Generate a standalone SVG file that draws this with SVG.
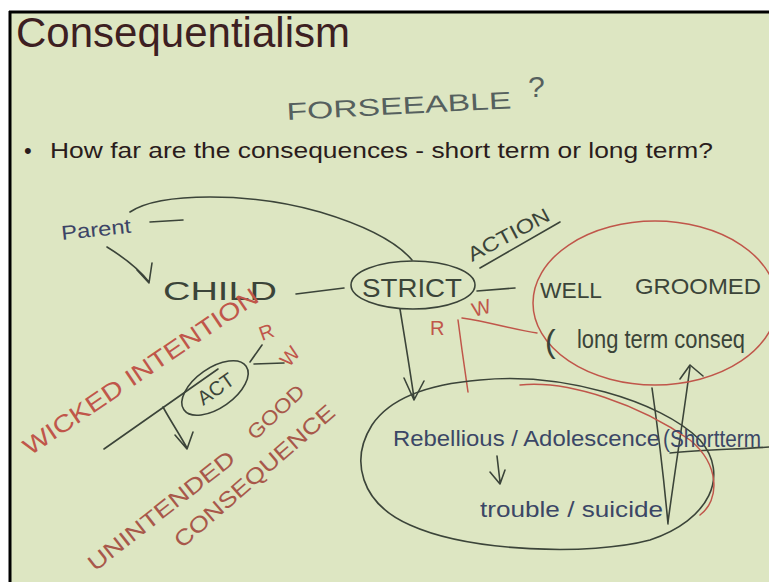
<svg xmlns="http://www.w3.org/2000/svg" width="769" height="582" viewBox="0 0 769 582">
<style>
.ink{fill:none;stroke:#3b4439;stroke-width:1.6;stroke-linecap:round;stroke-linejoin:round}
.red{fill:none;stroke:#c0564a;stroke-width:1.5;stroke-linecap:round;stroke-linejoin:round}
.hw{font-family:"Liberation Sans",Arial,sans-serif;fill:#3b4439}
.hr{font-family:"Liberation Sans",Arial,sans-serif;fill:#c0564a}
.hm{font-family:"Liberation Sans",Arial,sans-serif;fill:#a8584a}
</style>
<rect x="0" y="0" width="769" height="582" fill="#ffffff"/>
<rect x="10" y="13" width="759" height="569" fill="#dde6c2"/>
<line x1="9" y1="12" x2="769" y2="12" stroke="#000" stroke-width="3"/>
<line x1="10" y1="11" x2="10" y2="582" stroke="#000" stroke-width="3"/>

<g id="title">
<text x="16" y="47" font-family="Liberation Sans,Arial,sans-serif" font-size="42" fill="#3d1f22" textLength="334" lengthAdjust="spacingAndGlyphs">Consequentialism</text>
</g>
<g id="bullet">
<text x="24" y="158" font-family="Liberation Sans,Arial,sans-serif" font-size="22" fill="#2a1c1c">•</text>
<text x="50" y="158" font-family="Liberation Sans,Arial,sans-serif" font-size="22" fill="#2a1c1c" textLength="663" lengthAdjust="spacingAndGlyphs">How far are the consequences - short term or long term?</text>
</g>
<g id="forseeable">
<text class="hw" x="287" y="120" font-size="24" style="fill:#55605e" textLength="225" lengthAdjust="spacingAndGlyphs" transform="rotate(-3 287 120)">FORSEEABLE</text>
<text class="hw" x="528" y="97" font-size="30" style="fill:#55605e">?</text>
</g>

<g id="connectors">
<path class="ink" d="M130,212 C160,192 250,192 320,212 C360,224 395,240 412,260"/>
<path class="ink" d="M150,222 L183,220"/>
<path class="ink" d="M107,247 C120,255 138,268 149,282 M137,270 L149,283 L152,263"/>
<path class="ink" d="M296,294 L344,288"/>
<path class="ink" d="M480,268 L560,222"/>
<path class="ink" d="M477,291 L515,288"/>
<path class="ink" d="M400,309 C405,340 410,370 414,398 M404,378 L414,400 L424,381"/>
<path class="red" d="M462,318 C490,322 515,330 537,333"/>
<path class="red" d="M458,320 L462,350 L468,392"/>
<path class="ink" d="M497,456 L500,482 M490,472 L500,484 L505,470"/>
<path class="ink" d="M652,388 C658,430 664,480 668,524"/>
<path class="ink" d="M668,522 C675,470 683,420 690,367 M680,379 L690,365 L703,376"/>
<path class="ink" d="M670,453 C700,450 740,449 769,447"/>
<path class="ink" d="M250,362 L262,345 M254,364 L284,363"/>
<path class="ink" d="M104,449 L218,369"/>
<path class="ink" d="M163,407 C170,420 180,435 187,448 M175,435 L187,449 L193,432"/>
</g>

<g id="parent">
<text class="hw" x="62" y="240" font-size="20" style="fill:#3c4466" textLength="70" lengthAdjust="spacingAndGlyphs" transform="rotate(-6 62 240)">Parent</text>
</g>
<g id="child">
<text class="hw" x="163" y="300" font-size="26" textLength="114" lengthAdjust="spacingAndGlyphs">CHILD</text>
</g>
<g id="strict">
<ellipse class="ink" cx="413" cy="285" rx="62" ry="24"/>
<text class="hw" x="362" y="297" font-size="25" textLength="100" lengthAdjust="spacingAndGlyphs">STRICT</text>
</g>
<g id="action">
<text class="hw" x="472" y="262" font-size="20" textLength="90" lengthAdjust="spacingAndGlyphs" transform="rotate(-28 472 262)">ACTION</text>
</g>
<g id="rw-strict">
<text class="hr" x="474" y="317" font-size="20" transform="rotate(-15 474 317)">W</text>
<text class="hr" x="430" y="335" font-size="20">R</text>
</g>
<g id="well-groomed">
<ellipse class="red" cx="655" cy="303" rx="122" ry="82"/>
<text class="hw" x="540" y="298" font-size="22" textLength="62" lengthAdjust="spacingAndGlyphs">WELL</text>
<text class="hw" x="635" y="294" font-size="22" textLength="126" lengthAdjust="spacingAndGlyphs">GROOMED</text>
<text class="hw" x="545" y="352" font-size="32">(</text>
<text class="hw" x="577" y="348" font-size="26" textLength="168" lengthAdjust="spacingAndGlyphs">long term conseq</text>
</g>
<g id="rebellious">
<path class="ink" d="M480,380 C560,372 660,400 700,440 C730,475 710,520 650,540 C590,556 470,552 410,525 C360,503 350,460 372,425 C390,398 430,384 480,380 Z"/>
<path class="red" d="M520,385 C570,380 640,405 690,440 C720,465 720,500 700,515"/>
<text class="hw" x="393" y="446" font-size="22" style="fill:#3b4766" textLength="267" lengthAdjust="spacingAndGlyphs">Rebellious / Adolescence</text>
<text class="hw" x="663" y="447" font-size="23" style="fill:#3b4766" textLength="98" lengthAdjust="spacingAndGlyphs">(Shortterm</text>
<text class="hw" x="480" y="517" font-size="22" style="fill:#3b4766" textLength="183" lengthAdjust="spacingAndGlyphs">trouble / suicide</text>
</g>
<g id="wicked-intention">
<text class="hr" x="30" y="456" font-size="24" textLength="278" lengthAdjust="spacingAndGlyphs" transform="rotate(-34 30 456)">WICKED INTENTION</text>
<text class="hr" x="262" y="341" font-size="20" transform="rotate(-20 262 341)">R</text>
<text class="hr" x="289" y="368" font-size="20" transform="rotate(-50 289 368)">W</text>
</g>
<g id="act">
<ellipse class="ink" cx="215" cy="388" rx="38" ry="20" transform="rotate(-35 215 388)"/>
<text class="hw" x="215" y="396" font-size="20" text-anchor="middle" transform="rotate(-35 215 388)">ACT</text>
</g>
<g id="unintended">
<text class="hm" x="95" y="572" font-size="22" textLength="180" lengthAdjust="spacingAndGlyphs" transform="rotate(-38 95 572)">UNINTENDED</text>
<text class="hm" x="255" y="441" font-size="20" textLength="70" lengthAdjust="spacingAndGlyphs" transform="rotate(-43 255 441)">GOOD</text>
<text class="hm" x="182" y="549" font-size="22" textLength="205" lengthAdjust="spacingAndGlyphs" transform="rotate(-41 182 549)">CONSEQUENCE</text>
</g>
</svg>
